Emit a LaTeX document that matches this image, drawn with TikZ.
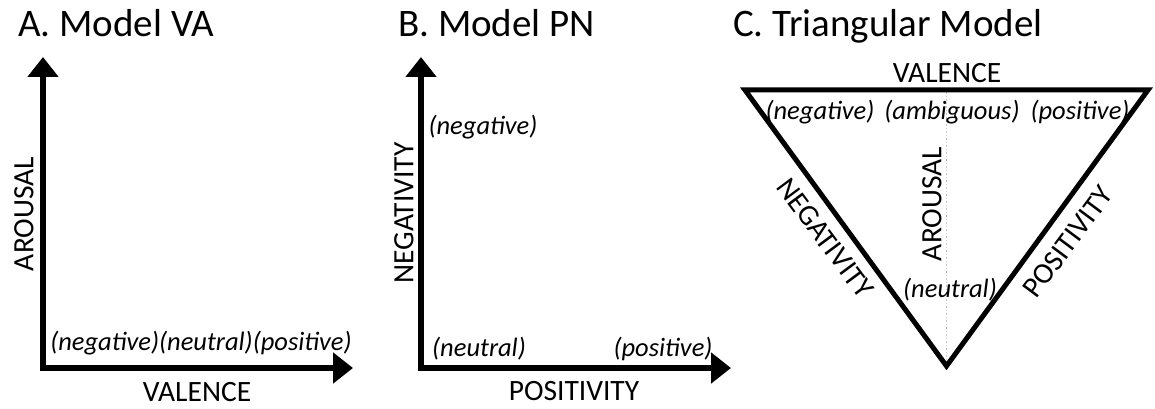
\documentclass[tikz,border=0pt]{standalone}
\usepackage{fontspec}
\setmainfont{Carlito}
\usetikzlibrary{arrows.meta}
\begin{document}
\begin{tikzpicture}[x=1pt,y=-1pt,
  axis/.style={line width=6pt, line join=miter, {Triangle[width=30pt,length=20pt]}-{Triangle[width=30pt,length=20pt]}},
  tri/.style={line width=5pt, line join=miter},
  ttl/.style={font=\fontsize{39}{42}\selectfont, anchor=base west, inner sep=0pt},
  lab/.style={font=\fontsize{29.5}{32}\selectfont, inner sep=0pt},
  ital/.style={font=\fontsize{26.5}{28}\selectfont\itshape, inner sep=0pt},
  guide/.style={line width=1.5pt, gray!45, dotted}
]
\useasboundingbox (0,0) rectangle (1155,409);

% Titles
\node[ttl] (tA) at (18,37) {A. Model VA};
\node[ttl] (tB) at (398,37) {B. Model PN};
\node[ttl] (tC) at (733,37) {C. Triangular Model};

% Panel A
\coordinate (Ay) at (43,57);
\coordinate (Ao) at (43,368);
\coordinate (Ax) at (353,368);
\draw[axis] (Ay) -- (Ao) -- (Ax);
\node[lab, rotate=90] (Aar) at (24,214) {AROUSAL};
\node[lab] (Ava) at (197,392) {VALENCE};
\node[ital] (Alab) at (201,343) {(negative)(neutral)(positive)};

% Panel B
\coordinate (By) at (421,57);
\coordinate (Bo) at (421,368);
\coordinate (Bx) at (731,368);
\draw[axis] (By) -- (Bo) -- (Bx);
\node[lab, rotate=90] (Bng) at (404,213) {NEGATIVITY};
\node[lab] (Bps) at (574,391) {POSITIVITY};
\node[ital] (Bneg) at (483,127) {(negative)};
\node[ital] (Bneu) at (479,349) {(neutral)};
\node[ital] (Bpos) at (663,349) {(positive)};

% Panel C
\coordinate (Ctl) at (745,90);
\coordinate (Ctr) at (1148,90);
\coordinate (Cb) at (946.5,366);
\coordinate (Ctm) at (946.5,92.5);
\draw[guide] (Ctm) -- (Cb);
\draw[tri] (Ctl) -- (Ctr) -- (Cb) -- cycle;
\node[lab] (Cva) at (947,73) {VALENCE};
\node[ital] (Cneg) at (820,112) {(negative)};
\node[ital] (Camb) at (952,112) {(ambiguous)};
\node[ital] (Cpos) at (1080,112) {(positive)};
\node[lab, rotate=90] (Car) at (932,204) {AROUSAL};
\node[ital] (Cneu) at (950,290) {(neutral)};
\node[lab, rotate=-53.3] (Cng) at (825,238) {NEGATIVITY};
\node[lab, rotate=53.3] (Cps) at (1068,242) {POSITIVITY};
\end{tikzpicture}
\end{document}
